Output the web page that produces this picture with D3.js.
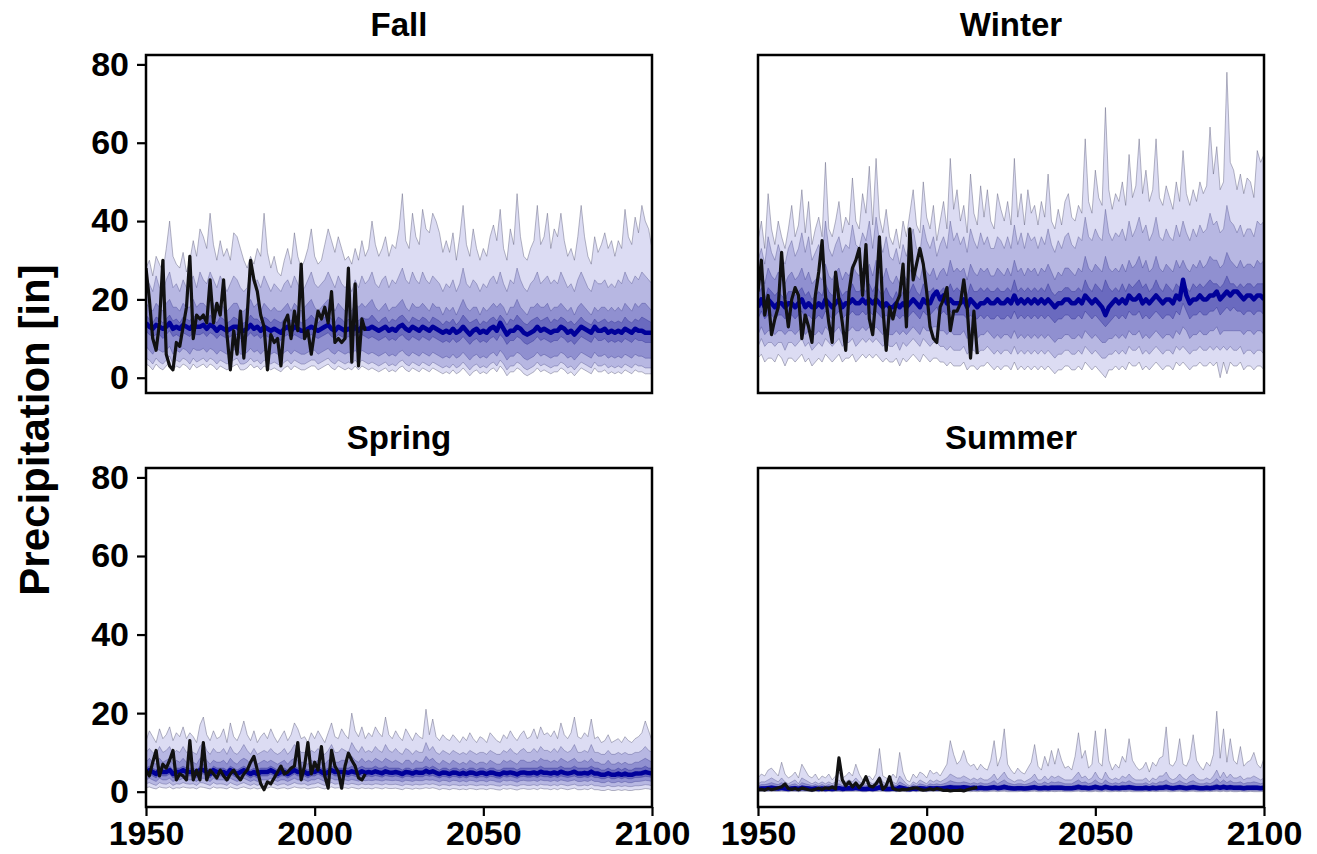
<!DOCTYPE html>
<html>
<head>
<meta charset="utf-8">
<script src="https://cdn.jsdelivr.net/npm/d3@7"></script>
<style>
  body { margin: 0; background: #fff; }
  svg { display: block; }
  text { font-family: "Liberation Sans", Arial, Helvetica, sans-serif; font-weight: bold; fill: #000; }
</style>
</head>
<body>
<svg id="chart" width="1317" height="854"></svg>
<script>
// ---------------------------------------------------------------
// Seasonal precipitation: model ensemble percentiles 1950-2100
// and observed record 1950-2015 (inches)
// ---------------------------------------------------------------
const firstYear = 1950;
const lastYear = 2100;
const seasons = ["Fall", "Winter", "Spring", "Summer"];
const xTicks = [1950, 2000, 2050, 2100];
const yTicks = [0, 20, 40, 60, 80];
const yLabel = "Precipitation [in]";

// ---- Fall ----
const fallP95 = [
  28,30,26,31,29,27,33,40,31,29, 28,32,27,30,35,31,38,36,33,42,
  34,30,35,31,33,30,37,36,33,30, 28,31,29,33,31,42,32,28,31,27,
  26,30,33,29,37,31,28,30,33,38, 31,29,30,34,38,35,32,36,33,30,
  31,29,33,30,35,31,33,40,34,31, 33,36,31,34,33,38,47,35,33,42,
  36,34,43,38,37,42,40,37,32,35, 32,37,30,36,44,34,31,38,33,30,
  33,31,36,39,35,43,33,30,38,34, 47,36,31,30,33,35,44,34,36,42,
  33,38,36,42,35,31,33,30,36,44, 36,31,29,36,32,34,37,33,35,31,
  35,33,43,36,34,41,37,44,40,38,33];
const fallP90 = [
  25,24,22,26,23,22,25,27,23,24, 22,25,23,24,26,23,27,25,24,27,
  25,23,26,24,22,24,26,25,23,22, 23,27,24,25,23,26,24,22,24,23,
  22,24,25,23,26,24,22,23,25,27, 24,23,24,25,27,25,23,26,24,23,
  24,22,25,23,26,24,25,27,24,23, 25,26,23,25,24,26,28,25,24,27,
  25,24,27,25,24,26,25,24,22,24, 23,25,22,24,28,24,23,25,24,22,
  24,23,25,26,24,27,24,22,25,24, 28,25,23,22,24,25,27,24,25,26,
  24,25,24,27,25,23,24,22,25,27, 25,23,22,25,24,24,25,23,24,23,
  25,24,27,25,24,26,25,27,26,25,24];
const fallP75 = [
  19,18,17,19,18,17,19,20,18,18, 17,19,18,18,20,18,19,19,18,20,
  19,17,19,18,17,18,19,19,17,17, 18,20,18,19,17,19,18,17,18,17,
  17,18,19,17,19,18,17,18,19,20, 18,17,18,19,20,19,17,19,18,17,
  18,17,19,18,19,18,19,20,18,17, 18,19,17,18,18,19,20,18,17,19,
  18,18,19,18,17,19,18,18,16,18, 17,18,16,18,20,18,17,18,18,16,
  18,17,18,19,18,19,18,16,18,18, 20,18,17,16,18,18,19,18,18,19,
  17,18,18,19,18,17,18,16,18,19, 18,17,16,18,17,18,18,17,18,17,
  18,17,19,18,17,19,18,19,19,18,17];
const fallP60 = [
  16,15,14,15.5,15,14,15,16,14.5,15, 14,15.5,15,14.5,16,15,15.5,15,14.5,16,
  15,14,15.5,15,14,14.5,15.5,15,14,14, 14.5,16,15,15,14,15.5,15,14,15,14.5,
  14,15,15.5,14.5,15.5,15,14,14.5,15,16, 15,14,15,15.5,16,15,14,15.5,15,14,
  15,14,15.5,14.5,15.5,15,15,16,15,14, 15,15.5,14,15,14.5,15.5,16,15,14,15.5,
  15,14.5,15.5,15,14,15.5,15,14.5,13.5,14.5, 14,15,13.5,14.5,16,15,14,14.5,15,13.5,
  14.5,14,15,15.5,14.5,16,15,13.5,15,14.5, 16,15,14,13.5,14.5,15,15.5,14.5,15,15.5,
  14,15,14.5,15.5,15,14,14.5,13.5,14.5,15.5, 14.5,14,13.5,15,14,14.5,15,14,14.5,14,
  14.5,14,15.5,14.5,14,15,14.5,15.5,15,14.5,14];
const fallP50 = [
  14,13,12.5,13.5,13,12.5,13,14,12.5,13, 12.5,13.5,13,12.5,13.5,13,13,13.5,12.5,13.5,
  13,12,13,12.5,12,12.5,13,13,12,12, 12.5,13.5,12.5,13,12,13,12.5,12,12.5,12,
  11.5,12.5,13,12,13,12.5,12,12,12.5,13, 12.5,12,12.5,13,13.5,12.5,12,13,12.5,12,
  12.5,12,13,12,13,12.5,12.5,13,12.5,12, 12.5,13,12,12.5,12,13,13.5,12.5,12,13,
  12.5,12,13,12.5,12,13,12.5,12,11.5,12, 11.5,12.5,11.5,12,13,12,11,12,12.5,11.5,
  12,11.5,12.5,13,12,14,12.5,11,12,12, 13,12.5,11.5,11,11.5,12,13,12,12.5,12,
  11.5,12,12,13,12.5,11.5,12,11,12,13, 12.5,12,11.5,13,12,12,12.5,11.5,12,11.5,
  12,11.5,12.5,12,11.5,12.5,12,12,11.5,11.5,11.5];
const fallP40 = [
  12,11,10.5,11,11,10,11,12,10.5,11, 10.5,11.5,11,10.5,11.5,11,11,11.5,10.5,11.5,
  11,10,11,10.5,10,10.5,11,11,10,10, 10.5,11.5,10.5,11,10,11,10.5,10,10.5,10,
  9.5,10.5,11,10,11,10.5,10,10,10.5,11, 10.5,10,10.5,11,11.5,10.5,10,11,10.5,10,
  10.5,10,11,10,11,10.5,10,10.5,10,9.5, 10,10.5,9.5,10,9.5,10.5,11,10,9.5,10.5,
  10,9.5,10.5,10,9.5,10.5,10,9.5,9,9.5, 9,10,9,9.5,10.5,9.5,8.5,9.5,10,9,
  9.5,9,10,10.5,9.5,11,10,8.5,9.5,9.5, 10.5,10,9,8.5,9,9.5,10.5,9.5,10,9.5,
  9,9.5,9.5,10.5,10,9,9.5,8.5,9.5,10.5, 10,9.5,9,10.5,9.5,9.5,10,9,9.5,9,
  9.5,9,10,9.5,9,10,9.5,9.5,9,9,9];
const fallP25 = [
  8,7,6,7.5,7,6.5,7,8,6,7, 6.5,7.5,7,6,7.5,7,7,7.5,6.5,7.5,
  7,6,7,6.5,6,6.5,7,7.5,6,6, 6.5,7.5,6.5,7,6,7,6.5,6,6.5,6,
  5.5,6.5,7,6,7,6.5,6,6,6.5,7, 7,6,6.5,7,7.5,6.5,6,7,6.5,6,
  6.5,6,7,6,7,6.5,6,6.5,6,5.5, 6,6.5,5.5,6,5.5,6.5,7,6,5.5,6.5,
  6,5.5,6.5,6,5.5,6.5,6,5.5,5,5.5, 5,6,5,5.5,6.5,5.5,4.5,5.5,6,5,
  5.5,5,6,6.5,5.5,7,6,4.5,5.5,5.5, 6.5,6,5,4.5,5,5.5,6.5,5.5,6,5.5,
  5,5.5,5.5,6.5,6,5,5.5,4.5,5.5,6.5, 6,5.5,5,6.5,5.5,5.5,6,5,5.5,5,
  5.5,5,6,5.5,5,6,5.5,5.5,5,5,5];
const fallP10 = [
  5,4.5,3.5,5,4,3.5,4.5,5.5,3.5,4.5, 4,5,4.5,3.5,5,4,4.5,5,4,5,
  4.5,3.5,4.5,4,3.5,4,4.5,5,3.5,3.5, 4,5,4,4.5,3.5,4.5,4,3.5,4,3.5,
  3,4,4.5,3.5,4.5,4,3.5,3.5,4,4.5, 4.5,3.5,4,4.5,5,4,3.5,4.5,4,3.5,
  4,3.5,4.5,3.5,4.5,4,3.5,4,3.5,3, 3.5,4,3,3.5,3,4,4.5,3.5,3,4,
  3.5,3,4,3.5,3,4,3.5,3,2.5,3, 2.5,3.5,2.5,3,4,3,2,3,3.5,2.5,
  3,2.5,3.5,4,3,4.5,3.5,2,3,3, 4,3.5,2.5,2,2.5,3,4,3,3.5,3,
  2.5,3,3,4,3.5,2.5,3,2,3,4, 3.5,3,2.5,4,3,3,3.5,2.5,3,2.5,
  3,2.5,3.5,3,2.5,3.5,3,3,2.5,2.5,2.5];
const fallP05 = [
  3.5,3,2,3.5,2.5,2,3,4,2,3, 2.5,3.5,3,2,3.5,2.5,3,3.5,2.5,3.5,
  3,2,3,2.5,2,2.5,3,3.5,2,2, 2.5,3.5,2.5,3,2,3,2.5,2,2.5,2,
  1.5,2.5,3,2,3,2.5,2,2,2.5,3, 3,2,2.5,3,3.5,2.5,2,3,2.5,2,
  2.5,2,3,2,3,2.5,2,2.5,2,1.5, 2,2.5,1.5,2,1.5,2.5,3,2,1.5,2.5,
  2,1.5,2.5,2,1.5,2.5,2,1.5,1,1.5, 1,2,1,1.5,2.5,1.5,0.5,1.5,2,1,
  1.5,1,2,2.5,1.5,3,2,0.5,1.5,1.5, 2.5,2,1,0.5,1,1.5,2.5,1.5,2,1.5,
  1,1.5,1.5,2.5,2,1,1.5,0.5,1.5,2.5, 2,1.5,1,2.5,1.5,1.5,2,1,1.5,1,
  1.5,1,2,1.5,1,2,1.5,1.5,1,1,1];
const fallObs = [
  28,20,10,7,14,30,6,3,2,9, 8,13,18,31,10,16,15,16,14,25,
  14,19,16,25,11,2,12,6,17,5, 16,30,25,22,16,13,2,11,9,10,
  3,14,16,10,17,12,29,10,12,6, 12,17,15,18,14,22,9,10,9,10,
  28,4,24,3,15,12];

// ---- Winter ----
const winterP95 = [
  35,40,33,47,38,34,40,36,33,38, 44,36,39,48,37,45,34,38,41,36,
  55,38,36,40,45,37,41,39,51,40, 38,47,42,54,39,56,41,37,43,36,
  34,38,33,40,36,42,48,39,37,50, 41,38,44,35,40,45,38,56,43,48,
  40,44,37,52,42,39,49,41,48,40, 38,47,43,40,45,39,56,41,47,39,
  48,42,44,39,45,41,52,40,38,43, 39,45,47,41,40,44,42,61,45,42,
  53,46,44,69,48,43,47,45,50,44, 57,46,49,61,47,53,45,48,61,46,
  44,49,46,43,50,45,58,47,44,48, 45,50,47,49,64,52,59,48,50,78,
  55,53,48,52,47,51,50,46,58,55,57];
const winterP90 = [
  30,33,29,36,32,30,34,31,29,33, 35,31,33,37,32,36,30,32,34,31,
  40,33,31,34,36,32,34,33,39,34, 33,37,35,40,33,41,35,32,36,31,
  30,33,29,34,31,35,38,33,32,39, 35,33,36,31,34,36,33,40,35,37,
  34,36,32,38,35,33,37,34,36,33, 33,36,35,33,36,33,39,34,37,33,
  37,35,36,33,36,34,38,34,32,35, 33,36,37,34,33,36,35,41,36,35,
  38,36,35,43,37,35,37,36,38,35, 40,36,38,41,37,39,35,37,41,36,
  35,38,36,35,39,36,40,37,35,38, 36,39,37,38,42,39,40,37,38,44,
  40,39,37,39,36,38,38,36,40,39,40];
const winterP75 = [
  25,27,24,28,26,25,27,25,24,26, 27,25,26,28,25,27,24,25,26,25,
  29,26,25,27,28,25,27,26,29,27, 26,28,27,29,26,30,27,25,28,25,
  24,26,24,27,25,27,29,26,25,29, 27,26,28,25,27,28,26,30,27,28,
  27,28,25,29,27,26,28,27,28,26, 26,28,27,26,28,26,30,27,28,26,
  28,27,28,26,28,27,29,27,25,27, 26,28,28,27,26,28,27,31,28,27,
  29,28,27,31,28,27,28,27,29,27, 30,28,29,31,28,30,27,28,31,28,
  27,29,28,27,30,28,30,28,27,29, 28,30,28,29,31,30,30,28,29,32,
  30,29,28,30,28,29,29,28,30,29,30];
const winterP60 = [
  21,23,20,23,22,21,22,21,20,22, 22,21,22,23,21,22,20,21,22,21,
  24,22,21,22,23,21,22,22,24,22, 22,23,22,24,22,24,22,21,23,21,
  20,22,20,22,21,22,24,22,21,24, 22,22,23,21,22,23,22,24,22,23,
  22,23,21,24,22,22,23,22,23,22, 22,23,22,22,23,22,25,22,23,22,
  23,22,23,22,23,22,24,22,21,22, 22,23,23,22,22,23,22,25,23,22,
  24,23,22,25,23,22,23,22,24,22, 24,23,24,25,23,24,22,23,25,23,
  22,24,23,22,24,23,25,23,22,24, 23,24,23,24,25,24,24,23,24,26,
  24,24,23,24,23,24,24,23,24,24,24];
const winterP50 = [
  18,20,18,20,19,18,19,19,18,19, 19,18,19,20,18,19,18,18,19,18,
  20,19,18,19,20,18,19,19,20,19, 19,20,19,20,19,20,19,18,19,18,
  18,19,18,19,18,19,20,19,18,20, 19,19,21,22,20,21,19,20,19,19,
  19,20,18,20,19,18,19,19,20,19, 19,20,19,19,20,19,21,19,20,19,
  20,19,20,19,20,19,20,19,18,19, 19,20,20,19,19,20,19,21,20,19,
  20,19,18,16,18,19,20,19,20,19, 21,20,20,21,19,20,19,20,21,20,
  19,20,20,19,21,20,25,21,19,20, 20,21,20,20,21,21,22,20,21,22,
  21,22,22,21,20,21,21,20,21,21,20];
const winterP40 = [
  15,17,15,16,16,15,16,16,15,16, 16,15,16,17,15,16,15,15,16,15,
  17,16,15,16,17,15,16,16,17,16, 16,17,16,17,16,17,16,15,16,15,
  15,16,15,16,15,16,17,16,15,17, 16,16,17,18,16,17,16,17,16,16,
  16,16,15,16,15,15,16,15,16,15, 15,16,15,15,16,15,17,15,16,15,
  16,15,16,15,16,15,16,15,14,15, 15,16,16,15,15,16,15,17,16,15,
  16,15,14,13,14,15,16,15,16,15, 17,16,16,17,15,16,15,16,17,16,
  15,16,16,15,17,16,19,17,15,16, 16,17,16,16,17,17,18,16,17,18,
  17,18,17,17,16,17,17,16,17,17,16];
const winterP25 = [
  11,13,11,12,12,11,12,12,11,12, 12,11,12,13,11,12,11,11,12,11,
  13,12,11,12,13,11,12,12,13,12, 12,13,12,13,12,13,12,11,12,11,
  11,12,11,12,11,12,13,12,11,13, 12,12,13,13,12,12,11,12,11,11,
  11,12,10,11,11,10,11,11,12,11, 10,11,10,11,11,10,12,10,11,10,
  11,10,11,10,11,10,11,10,9,10, 10,11,11,10,10,11,10,12,11,10,
  11,10,9,9,10,10,11,10,11,10, 12,11,11,12,10,11,10,11,12,11,
  10,11,11,10,12,11,13,12,10,11, 11,12,11,11,12,12,13,11,12,12,
  12,12,12,12,11,12,12,11,12,12,11];
const winterP10 = [
  8,10,8,9,9,8,9,9,7,9, 9,8,9,10,8,9,7,8,9,8,
  10,9,8,9,10,8,9,9,10,8, 9,10,9,10,9,10,9,8,9,8,
  8,9,7,9,8,9,10,9,8,10, 9,8,9,9,8,8,7,8,7,7,
  7,8,6,7,7,6,7,7,8,7, 6,7,6,7,7,6,8,6,7,6,
  7,6,7,6,7,6,7,6,5,6, 6,7,7,6,6,7,6,8,7,6,
  7,6,5,5,6,6,7,6,7,6, 8,7,7,8,6,7,6,7,8,7,
  6,7,7,6,8,7,8,7,6,7, 7,8,7,7,8,7,8,7,8,7,
  8,7,7,8,6,7,7,6,7,7,6];
const winterP05 = [
  5,6,4,5,5,4,6,5,3,5, 5,4,5,6,4,5,3,4,5,4,
  6,5,4,5,6,4,5,5,6,4, 5,6,5,6,5,6,5,4,5,4,
  4,5,3,5,4,5,6,5,4,6, 5,4,5,5,4,4,3,4,3,3,
  3,4,2,3,3,2,3,3,4,3, 2,3,2,3,3,2,4,2,3,2,
  3,2,3,2,3,2,3,2,1,2, 2,3,3,2,2,3,2,4,3,2,
  3,2,1,0,2,2,3,2,3,2, 4,3,3,4,2,3,2,3,4,3,
  2,3,3,2,4,3,4,3,2,3, 3,4,3,3,4,3,4,0,4,1,
  4,3,3,4,2,3,3,2,3,3,2];
const winterObs = [
  22,30,16,21,11,15,18,32,20,13, 20,23,21,10,16,13,9,21,27,35,
  21,14,9,27,20,14,7,22,28,30, 33,21,34,15,11,21,36,18,7,18,
  15,19,21,29,13,38,25,29,33,29, 22,13,10,9,18,20,23,12,17,17,
  19,25,18,5,17,6];

// ---- Spring ----
const springP95 = [
  13,15.5,14,12.5,16,13.5,14.5,16.5,13,15, 14,16.5,13.5,15,14,12.5,17,19,14.5,13,
  15.5,13.5,14,16,12.5,17.5,14,13,15,18, 14.5,13,15.5,12.5,14,15,13.5,16,14,12.5,
  14,15.5,13,14.5,17.5,16,13.5,14,12.5,15, 13.5,15.5,14,12.5,15,17.5,14,13.5,16,14.5,
  13.5,20,15.5,14,16.5,13.5,15,14,16.5,15, 14,19,14.5,13.5,15.5,14,13,16,14.5,13,
  15,14,13.5,21,14.5,18.5,14,13,14.5,13.5, 13,14.5,13.5,12.5,14,13,15,13.5,12.5,14,
  13.5,12.5,15,14,13,12.5,14.5,13.5,15.5,14, 13,14.5,15.5,13.5,14,16,13.5,16.5,14.5,15,
  14,15.5,13.5,17.5,14.5,13.5,15,19,14,13.5, 15,14,18.5,13.5,14,12.5,13,14.5,12.5,13,
  13.5,12.5,14,13,12.5,13.5,14,15,18,15.5,13];
const springP90 = [
  10,11,10,9.5,11.5,10,10.5,11.5,9.5,10.5, 10,11.5,10,10.5,10,9.5,11.5,12.5,10.5,9.5,
  11,10,10,11,9.5,11.5,10,9.5,10.5,12, 10.5,9.5,11,9.5,10,10.5,10,11,10,9.5,
  10,11,9.5,10.5,12,11,10,10,9.5,10.5, 10,11,10,9.5,10.5,12,10,10,11,10.5,
  10,12.5,11,10,11.5,10,10.5,10,11.5,10.5, 10,12,10.5,10,11,10,9.5,11,10.5,9.5,
  10.5,10,10,12.5,10.5,11.5,10,9.5,10.5,10, 9.5,10.5,10,9.5,10,9.5,10.5,10,9.5,10,
  10,9.5,10.5,10,9.5,9.5,10.5,10,11,10, 9.5,10.5,11,10,10,11,10,11.5,10.5,10.5,
  10,11,10,11.5,10.5,10,10.5,12,10,10, 10.5,10,12,10,10,9.5,9.5,10.5,9.5,9.5,
  10,9.5,10,9.5,9.5,10,10,10.5,11.5,10.5,10];
const springP75 = [
  7.5,8.5,7.5,7,8.5,7.5,8,8.5,7,8, 7.5,8.5,7.5,8,7.5,7,8.5,9,8,7,
  8,7.5,7.5,8,7,8.5,7.5,7,8,8.5, 8,7,8,7,7.5,8,7.5,8,7.5,7,
  7.5,8,7,8,8.5,8,7.5,7.5,7,8, 7.5,8,7.5,7,8,8.5,7.5,7.5,8,8,
  7.5,9,8,7.5,8.5,7.5,8,7.5,8.5,8, 7.5,8.5,8,7.5,8,7.5,7,8,8,7,
  8,7.5,7.5,9,8,8.5,7.5,7,8,7.5, 7,8,7.5,7,7.5,7,8,7.5,7,7.5,
  7.5,7,8,7.5,7,7,8,7.5,8,7.5, 7,8,8,7.5,7.5,8,7.5,8.5,8,8,
  7.5,8,7.5,8.5,8,7.5,8,8.5,7.5,7.5, 8,7.5,8.5,7.5,7.5,7,7,8,7,7,
  7.5,7,7.5,7,7,7.5,7.5,8,8.5,8,7.5];
const springP60 = [
  6,6.5,6,5.5,6.5,6,6,6.5,5.5,6, 6,6.5,6,6,6,5.5,6.5,7,6,5.5,
  6.5,6,6,6,5.5,6.5,6,5.5,6,6.5, 6,5.5,6,5.5,6,6,6,6.5,6,5.5,
  6,6,5.5,6,6.5,6,6,6,5.5,6, 6,6.5,6,5.5,6,6.5,6,6,6,6,
  6,6.5,6,6,6.5,6,6,6,6.5,6, 6,6.5,6,6,6,6,5.5,6,6,5.5,
  6,6,6,6.5,6,6.5,6,5.5,6,6, 5.5,6,6,5.5,6,5.5,6,6,5.5,6,
  6,5.5,6,6,5.5,5.5,6,6,6,6, 5.5,6,6,6,6,6,6,6.5,6,6,
  6,6,6,6.5,6,6,6,6.5,6,6, 6,6,6.5,6,6,5.5,5.5,6,5.5,5.5,
  6,5.5,6,5.5,5.5,6,6,6,6.5,6,6];
const springP50 = [
  5,5.5,5,4.5,5.5,5,5,5.5,4.5,5, 5,5.5,5,5,5,4.5,5.5,5.5,5,4.5,
  5.5,5,5,5,4.5,5.5,5,4.5,5,5.5, 5,4.5,5,4.5,5,5,5,5.5,5,4.5,
  5,5,4.5,5,5.5,5,5,5,4.5,5, 5,5.5,5,4.5,5,5.5,5,5,5,5,
  4.8,5.2,4.9,4.7,5.2,4.8,5,4.8,5.2,4.9, 4.7,5.2,4.9,4.8,5,4.8,4.5,5,4.9,4.6,
  5,4.8,4.8,5.3,4.9,5.2,4.8,4.5,4.9,4.8, 4.5,4.9,4.8,4.5,4.8,4.5,4.9,4.8,4.5,4.8,
  4.8,4.5,4.9,4.8,4.5,4.4,4.9,4.7,4.9,4.7, 4.4,4.8,4.9,4.7,4.7,4.9,4.6,5.1,4.8,4.8,
  4.6,4.9,4.6,5.1,4.8,4.6,4.8,5.1,4.6,4.6, 4.8,4.6,5.1,4.6,4.6,4.3,4.3,4.7,4.3,4.3,
  4.6,4.3,4.6,4.3,4.3,4.6,4.6,4.7,5,4.8,4.6];
const springP40 = [
  4,4.5,4,3.5,4.5,4,4,4.5,3.5,4, 4,4.5,4,4,4,3.5,4.5,4.5,4,3.5,
  4.5,4,4,4,3.5,4.5,4,3.5,4,4.5, 4,3.5,4,3.5,4,4,4,4.5,4,3.5,
  4,4,3.5,4,4.5,4,4,4,3.5,4, 4,4.5,4,3.5,4,4.5,4,4,4,4,
  3.8,4.2,3.9,3.7,4.1,3.8,4,3.8,4.1,3.9, 3.7,4.1,3.9,3.8,4,3.8,3.5,3.9,3.9,3.6,
  3.9,3.8,3.8,4.2,3.9,4.1,3.8,3.5,3.9,3.8, 3.5,3.9,3.8,3.5,3.8,3.5,3.9,3.8,3.5,3.8,
  3.8,3.5,3.9,3.8,3.5,3.4,3.9,3.7,3.9,3.7, 3.4,3.8,3.9,3.7,3.7,3.9,3.6,4,3.8,3.8,
  3.6,3.9,3.6,4,3.8,3.6,3.8,4,3.6,3.6, 3.8,3.6,4,3.6,3.6,3.3,3.3,3.7,3.3,3.3,
  3.6,3.3,3.6,3.3,3.3,3.6,3.6,3.7,3.9,3.8,3.6];
const springP25 = [
  3,3.4,3,2.6,3.4,3,3,3.4,2.6,3, 3,3.4,3,3,3,2.6,3.4,3.4,3,2.6,
  3.4,3,3,3,2.6,3.4,3,2.6,3,3.4, 3,2.6,3,2.6,3,3,3,3.4,3,2.6,
  3,3,2.6,3,3.4,3,3,3,2.6,3, 3,3.4,3,2.6,3,3.4,3,3,3,3,
  2.8,3.1,2.9,2.7,3,2.8,2.9,2.8,3,2.9, 2.7,3,2.9,2.8,2.9,2.8,2.5,2.9,2.8,2.6,
  2.9,2.8,2.8,3.1,2.9,3,2.8,2.5,2.9,2.8, 2.5,2.9,2.8,2.5,2.8,2.5,2.9,2.8,2.5,2.8,
  2.8,2.5,2.9,2.8,2.5,2.4,2.9,2.7,2.9,2.7, 2.4,2.8,2.9,2.7,2.7,2.9,2.6,3,2.8,2.8,
  2.6,2.9,2.6,3,2.8,2.6,2.8,3,2.6,2.6, 2.8,2.6,3,2.6,2.6,2.3,2.3,2.7,2.3,2.3,
  2.6,2.3,2.6,2.3,2.3,2.6,2.6,2.7,2.9,2.8,2.6];
const springP10 = [
  2,2.3,1.9,1.6,2.3,2,1.9,2.3,1.6,2, 1.9,2.3,2,1.9,2,1.6,2.3,2.2,1.9,1.6,
  2.3,1.9,2,1.9,1.6,2.3,1.9,1.6,2,2.3, 1.9,1.6,2,1.6,1.9,2,1.9,2.3,2,1.6,
  1.9,2,1.6,1.9,2.3,2,1.9,2,1.6,1.9, 2,2.3,1.9,1.6,2,2.3,1.9,2,1.9,2,
  1.8,2.1,1.9,1.7,2,1.8,1.9,1.7,2,1.9, 1.7,2,1.8,1.8,1.9,1.7,1.5,1.9,1.8,1.6,
  1.9,1.7,1.8,2,1.8,2,1.8,1.5,1.8,1.7, 1.5,1.8,1.7,1.5,1.7,1.5,1.8,1.7,1.5,1.7,
  1.7,1.5,1.8,1.7,1.5,1.4,1.8,1.6,1.8,1.6, 1.4,1.7,1.8,1.6,1.6,1.8,1.5,1.9,1.7,1.7,
  1.5,1.8,1.5,1.9,1.7,1.5,1.7,1.9,1.5,1.5, 1.7,1.5,1.9,1.5,1.5,1.3,1.3,1.6,1.3,1.3,
  1.5,1.3,1.5,1.3,1.3,1.5,1.5,1.6,1.8,1.7,1.5];
const springP05 = [
  1,1.2,0.9,0.7,1.2,1,0.9,1.2,0.7,1, 0.9,1.2,1,0.9,1,0.7,1.2,1.1,0.9,0.7,
  1.2,0.9,1,0.9,0.7,1.2,0.9,0.7,1,1.2, 0.9,0.7,1,0.7,0.9,1,0.9,1.2,1,0.7,
  0.9,1,0.7,0.9,1.2,1,0.9,1,0.7,0.9, 1,1.2,0.9,0.7,1,1.2,0.9,1,0.9,1,
  0.8,1.1,0.9,0.7,1,0.8,0.9,0.7,1,0.9, 0.7,1,0.8,0.8,0.9,0.7,0.5,0.9,0.8,0.6,
  0.9,0.7,0.8,1,0.8,1,0.8,0.5,0.8,0.7, 0.5,0.8,0.7,0.5,0.7,0.5,0.8,0.7,0.5,0.7,
  0.7,0.5,0.8,0.7,0.5,0.4,0.8,0.6,0.8,0.6, 0.4,0.7,0.8,0.6,0.6,0.8,0.5,0.9,0.7,0.7,
  0.5,0.8,0.5,0.9,0.7,0.5,0.7,0.9,0.5,0.5, 0.7,0.5,0.9,0.5,0.5,0.3,0.3,0.6,0.3,0.3,
  0.5,0.3,0.5,0.3,0.3,0.5,0.5,0.6,0.8,0.7,0.5];
const springObs = [
  5.5,4,7.5,10.5,4,7,6,8,10.5,3, 4.5,4,3,13,3,5.5,3,12.5,3,5.5,
  4.5,3.5,5.5,4,3,4.5,5.5,4,3,4.5, 5.5,7.5,9,5.5,2,0.5,2.5,2,3.5,5,
  6.5,4.5,5,6,6.5,12.5,3,6.5,12.5,4.5, 7.5,5.5,11.5,4,0.9,10.5,6.5,5,0.9,6.5,
  9.8,8,6.5,3.5,3,4.5];

// ---- Summer ----
const summerP95 = [
  3.5,4.5,4,5.5,6,5,4,7.5,4.5,3.5, 4,5,3.5,7,5.5,4,3.5,4.5,3,4,
  3.5,4.5,3,4,5,3.5,4,5,4,7, 4.5,3,3.5,4,3,4.5,11,4,3.5,3,
  4.5,3.5,10,5,3,2.5,4.5,3.5,5,4.5, 3.5,5.5,4.5,5,4,5.5,7,13,9.5,7,
  8,10.5,7.5,6.5,7,5.5,7,6,5.5,8, 13,6.5,9,16,7,5.5,4.5,6,5,4.5,
  6,7.5,12,6.5,5.5,9,6.5,10.5,7,11, 8,6,6.5,5.5,9,15,8.5,10.5,6,7,
  15.5,7.5,6.5,16,8,5.5,7,6,9,7.5, 13.5,8,6.5,5.5,6,7.5,5,7.5,6.5,8.5,
  9,16.5,7,6.5,8,13.5,7,6.5,8.5,14.5, 8,6.5,5.5,7.5,6.5,9.5,20.5,8.5,16,7.5,
  13.5,8,7,11.5,6.5,7.5,8,10,7,6,8.5];
const summerP90 = [
  2,2.5,2.5,3,3.5,3,2.5,3.5,2.5,2, 2.5,3,2,3.5,3,2.5,2,2.5,2,2.5,
  2,2.5,2,2.5,3,2,2.5,3,2.5,3.5, 2.5,2,2,2.5,2,2.5,4,2.5,2,2,
  2.5,2,4,3,2,1.5,2.5,2,3,2.5, 2,3,2.5,3,2.5,3,3.5,4.5,4,3.5,
  3.5,4,3.5,3,3.5,3,3.5,3,3,3.5, 4.5,3,4,5,3.5,3,2.5,3,3,2.5,
  3,3.5,4.5,3,3,4,3,4,3.5,4, 3.5,3,3,3,4,5,3.5,4,3,3.5,
  5,3.5,3,5,3.5,3,3.5,3,4,3.5, 4.5,3.5,3,3,3,3.5,2.5,3.5,3,4,
  4,5,3.5,3,3.5,4.5,3.5,3,4,4.5, 3.5,3,3,3.5,3,4,5.5,3.5,5,3.5,
  4.5,3.5,3.5,4,3,3.5,3.5,4,3.5,3,3.5];
const summerP75 = [
  1.5,1.8,1.8,2,2.3,2,1.8,2.3,1.8,1.5, 1.8,2,1.5,2.3,2,1.8,1.5,1.8,1.5,1.8,
  1.5,1.8,1.5,1.8,2,1.5,1.8,2,1.8,2.3, 1.8,1.5,1.5,1.8,1.5,1.8,2.5,1.8,1.5,1.5,
  1.8,1.5,2.5,2,1.5,1.2,1.8,1.5,2,1.8, 1.5,2,1.8,2,1.8,2,2.3,2.8,2.5,2.3,
  2.3,2.5,2.3,2,2.3,2,2.3,2,2,2.3, 2.8,2,2.5,3,2.3,2,1.8,2,2,1.8,
  2,2.3,2.8,2,2,2.5,2,2.5,2.3,2.5, 2.3,2,2,2,2.5,3,2.3,2.5,2,2.3,
  3,2.3,2,3,2.3,2,2.3,2,2.5,2.3, 2.8,2.3,2,2,2,2.3,1.8,2.3,2,2.5,
  2.5,3,2.3,2,2.3,2.8,2.3,2,2.5,2.8, 2.3,2,2,2.3,2,2.5,3.3,2.3,3,2.3,
  2.8,2.3,2.3,2.5,2,2.3,2.3,2.5,2.3,2,2.3];
const summerP60 = [
  1.1,1.3,1.3,1.4,1.5,1.4,1.3,1.5,1.3,1.1, 1.3,1.4,1.1,1.5,1.4,1.3,1.1,1.3,1.1,1.3,
  1.1,1.3,1.1,1.3,1.4,1.1,1.3,1.4,1.3,1.5, 1.3,1.1,1.1,1.3,1.1,1.3,1.6,1.3,1.1,1.1,
  1.3,1.1,1.6,1.4,1.1,0.9,1.3,1.1,1.4,1.3, 1.1,1.4,1.3,1.4,1.3,1.4,1.5,1.7,1.6,1.5,
  1.5,1.6,1.5,1.4,1.5,1.4,1.5,1.4,1.4,1.5, 1.7,1.4,1.6,1.8,1.5,1.4,1.3,1.4,1.4,1.3,
  1.4,1.5,1.7,1.4,1.4,1.6,1.4,1.6,1.5,1.6, 1.5,1.4,1.4,1.4,1.6,1.8,1.5,1.6,1.4,1.5,
  1.8,1.5,1.4,1.8,1.5,1.4,1.5,1.4,1.6,1.5, 1.7,1.5,1.4,1.4,1.4,1.5,1.3,1.5,1.4,1.6,
  1.6,1.8,1.5,1.4,1.5,1.7,1.5,1.4,1.6,1.7, 1.5,1.4,1.4,1.5,1.4,1.6,1.9,1.5,1.8,1.5,
  1.7,1.5,1.5,1.6,1.4,1.5,1.5,1.6,1.5,1.4,1.5];
const summerP50 = [
  0.7,0.8,0.8,0.9,1,0.9,0.8,1,0.8,0.7, 0.8,0.9,0.7,1,0.9,0.8,0.7,0.8,0.7,0.8,
  0.7,0.8,0.7,0.8,0.9,0.7,0.8,0.9,0.8,1, 0.8,0.7,0.7,0.8,0.7,0.8,1.1,0.8,0.7,0.7,
  0.8,0.7,1.1,0.9,0.7,0.6,0.8,0.7,0.9,0.8, 0.7,0.9,0.8,0.9,0.8,0.9,1,1.1,1,1,
  1,1.1,1,0.9,1,0.9,1,0.9,0.9,1, 1.1,0.9,1,1.2,1,0.9,0.8,0.9,0.9,0.8,
  0.9,1,1.1,0.9,0.9,1,0.9,1,1,1, 1,0.9,0.9,0.9,1,1.2,1,1,0.9,1,
  1.2,1,0.9,1.2,1,0.9,1,0.9,1,1, 1.1,1,0.9,0.9,0.9,1,0.8,1,0.9,1,
  1,1.2,1,0.9,1,1.1,1,0.9,1,1.1, 1,0.9,0.9,1,0.9,1,1.2,1,1.2,1,
  1.1,1,1,1,0.9,1,1,1,1,0.9,1];
const summerP40 = [
  0.5,0.6,0.6,0.7,0.7,0.7,0.6,0.7,0.6,0.5, 0.6,0.7,0.5,0.7,0.7,0.6,0.5,0.6,0.5,0.6,
  0.5,0.6,0.5,0.6,0.7,0.5,0.6,0.7,0.6,0.7, 0.6,0.5,0.5,0.6,0.5,0.6,0.8,0.6,0.5,0.5,
  0.6,0.5,0.8,0.7,0.5,0.4,0.6,0.5,0.7,0.6, 0.5,0.7,0.6,0.7,0.6,0.7,0.7,0.8,0.7,0.7,
  0.7,0.8,0.7,0.7,0.7,0.7,0.7,0.7,0.7,0.7, 0.8,0.7,0.7,0.9,0.7,0.7,0.6,0.7,0.7,0.6,
  0.7,0.7,0.8,0.7,0.7,0.7,0.7,0.7,0.7,0.7, 0.7,0.7,0.7,0.7,0.7,0.9,0.7,0.7,0.7,0.7,
  0.9,0.7,0.7,0.9,0.7,0.7,0.7,0.7,0.7,0.7, 0.8,0.7,0.7,0.7,0.7,0.7,0.6,0.7,0.7,0.7,
  0.7,0.9,0.7,0.7,0.7,0.8,0.7,0.7,0.7,0.8, 0.7,0.7,0.7,0.7,0.7,0.7,0.9,0.7,0.9,0.7,
  0.8,0.7,0.7,0.7,0.7,0.7,0.7,0.7,0.7,0.7,0.7];
const summerP25 = [
  0.3,0.3,0.3,0.4,0.4,0.4,0.3,0.4,0.3,0.3, 0.3,0.4,0.3,0.4,0.4,0.3,0.3,0.3,0.3,0.3,
  0.3,0.3,0.3,0.3,0.4,0.3,0.3,0.4,0.3,0.4, 0.3,0.3,0.3,0.3,0.3,0.3,0.5,0.3,0.3,0.3,
  0.3,0.3,0.5,0.4,0.3,0.2,0.3,0.3,0.4,0.3, 0.3,0.4,0.3,0.4,0.3,0.4,0.4,0.5,0.4,0.4,
  0.4,0.5,0.4,0.4,0.4,0.4,0.4,0.4,0.4,0.4, 0.5,0.4,0.4,0.5,0.4,0.4,0.3,0.4,0.4,0.3,
  0.4,0.4,0.5,0.4,0.4,0.4,0.4,0.4,0.4,0.4, 0.4,0.4,0.4,0.4,0.4,0.5,0.4,0.4,0.4,0.4,
  0.5,0.4,0.4,0.5,0.4,0.4,0.4,0.4,0.4,0.4, 0.5,0.4,0.4,0.4,0.4,0.4,0.3,0.4,0.4,0.4,
  0.4,0.5,0.4,0.4,0.4,0.5,0.4,0.4,0.4,0.5, 0.4,0.4,0.4,0.4,0.4,0.4,0.5,0.4,0.5,0.4,
  0.5,0.4,0.4,0.4,0.4,0.4,0.4,0.4,0.4,0.4,0.4];
const summerP10 = [
  0.2,0.2,0.2,0.2,0.3,0.2,0.2,0.3,0.2,0.2, 0.2,0.2,0.1,0.3,0.2,0.2,0.1,0.2,0.1,0.2,
  0.1,0.2,0.1,0.2,0.2,0.1,0.2,0.2,0.2,0.3, 0.2,0.1,0.1,0.2,0.1,0.2,0.3,0.2,0.1,0.1,
  0.2,0.1,0.3,0.2,0.1,0.1,0.2,0.1,0.2,0.2, 0.1,0.2,0.2,0.2,0.2,0.2,0.2,0.3,0.2,0.2,
  0.2,0.3,0.2,0.2,0.2,0.2,0.2,0.2,0.2,0.2, 0.3,0.2,0.2,0.3,0.2,0.2,0.2,0.2,0.2,0.2,
  0.2,0.2,0.3,0.2,0.2,0.2,0.2,0.2,0.2,0.2, 0.2,0.2,0.2,0.2,0.2,0.3,0.2,0.2,0.2,0.2,
  0.3,0.2,0.2,0.3,0.2,0.2,0.2,0.2,0.2,0.2, 0.3,0.2,0.2,0.2,0.2,0.2,0.2,0.2,0.2,0.2,
  0.2,0.3,0.2,0.2,0.2,0.3,0.2,0.2,0.2,0.3, 0.2,0.2,0.2,0.2,0.2,0.2,0.3,0.2,0.3,0.2,
  0.3,0.2,0.2,0.2,0.2,0.2,0.2,0.2,0.2,0.2,0.2];
const summerP05 = [
  0.1,0.1,0.1,0.1,0.1,0.1,0.1,0.1,0.1,0, 0.1,0.1,0,0.1,0.1,0.1,0,0.1,0,0.1,
  0,0.1,0,0.1,0.1,0,0.1,0.1,0.1,0.1, 0.1,0,0,0.1,0,0.1,0.1,0.1,0,0,
  0.1,0,0.1,0.1,0,0,0.1,0,0.1,0.1, 0,0.1,0.1,0.1,0.1,0.1,0.1,0.1,0.1,0.1,
  0.1,0.1,0.1,0,0.1,0,0.1,0,0,0.1, 0.1,0,0.1,0.1,0,0,0,0,0.1,0,
  0,0.1,0.1,0,0,0.1,0,0.1,0,0.1, 0.1,0,0,0,0.1,0.1,0,0.1,0,0,
  0.1,0,0,0.1,0,0,0.1,0,0.1,0, 0.1,0,0,0,0,0.1,0,0.1,0,0.1,
  0.1,0.1,0,0,0.1,0.1,0,0,0.1,0.1, 0,0,0,0.1,0,0.1,0.1,0,0.1,0,
  0.1,0,0,0.1,0,0,0.1,0,0,0,0.1];
const summerObs = [
  0.5,0.6,0.4,0.8,0.5,0.7,1,1.2,2,0.8, 0.6,0.8,0.5,0.9,0.7,0.5,0.4,0.6,0.9,0.5,
  1,0.8,1.2,0.7,8.6,3,1.5,2.5,1.2,2.2, 1,2,3.8,1.5,1.2,2,3.4,0.6,1.5,3.8,
  0.8,0.5,0.4,0.6,0.5,0.7,0.9,1,0.6,0.4, 0.5,0.7,0.5,0.8,0.6,0.3,0.4,0.2,0.3,0.3,
  0.4,0.2,0.5,0.7,0.9,1.1];

// ---------------------------------------------------------------
const panels = [
  { title: seasons[0], col: 0, row: 0, median: fallP50, obs: fallObs,
    bands: [[fallP05, fallP95], [fallP10, fallP90], [fallP25, fallP75], [fallP40, fallP60]] },
  { title: seasons[1], col: 1, row: 0, median: winterP50, obs: winterObs,
    bands: [[winterP05, winterP95], [winterP10, winterP90], [winterP25, winterP75], [winterP40, winterP60]] },
  { title: seasons[2], col: 0, row: 1, median: springP50, obs: springObs,
    bands: [[springP05, springP95], [springP10, springP90], [springP25, springP75], [springP40, springP60]] },
  { title: seasons[3], col: 1, row: 1, median: summerP50, obs: summerObs,
    bands: [[summerP05, summerP95], [summerP10, summerP90], [summerP25, summerP75], [summerP40, summerP60]] }
];

// layout
const colRange = [[146, 652], [758, 1264]];
const rowRange = [[55, 393], [468, 807]];
const yDomain = [-3.9, 82.4];

const bandFill = ["#dcdcf3", "#b7b7e2", "#9090d0", "#6a6abf"];
const bandEdge = ["rgba(90,90,120,0.55)", "rgba(70,70,130,0.45)", "rgba(60,60,140,0.45)", "rgba(40,40,140,0.45)"];
const medianColor = "#00009a";
const obsColor = "#111111";
const fontFamily = "'Liberation Sans', Arial, sans-serif";

const svg = d3.select("#chart");
svg.append("rect").attr("width", 1317).attr("height", 854).attr("fill", "#ffffff");

panels.forEach(p => {
  const [x0, x1] = colRange[p.col];
  const [y0, y1] = rowRange[p.row];
  const x = d3.scaleLinear().domain([firstYear, lastYear]).range([x0, x1]);
  const y = d3.scaleLinear().domain(yDomain).range([y1, y0]);
  const g = svg.append("g");

  const clipId = "clip-" + p.title;
  g.append("clipPath").attr("id", clipId)
    .append("rect").attr("x", x0).attr("y", y0).attr("width", x1 - x0).attr("height", y1 - y0);
  const plot = g.append("g").attr("clip-path", `url(#${clipId})`);

  // percentile bands, widest first
  p.bands.forEach(([lo, hi], k) => {
    const area = d3.area()
      .x((d, i) => x(firstYear + i))
      .y0((d, i) => y(lo[i]))
      .y1((d, i) => y(hi[i]));
    plot.append("path")
      .datum(hi)
      .attr("d", area)
      .attr("fill", bandFill[k])
      .attr("stroke", bandEdge[k])
      .attr("stroke-width", 0.8)
      .attr("stroke-linejoin", "round");
  });

  // ensemble median
  const line = d3.line().x((d, i) => x(firstYear + i)).y(d => y(d));
  plot.append("path")
    .datum(p.median)
    .attr("d", line)
    .attr("fill", "none")
    .attr("stroke", medianColor)
    .attr("stroke-width", 4.5)
    .attr("stroke-linejoin", "round");

  // observed record
  plot.append("path")
    .datum(p.obs)
    .attr("d", line)
    .attr("fill", "none")
    .attr("stroke", obsColor)
    .attr("stroke-width", 3.2)
    .attr("stroke-linejoin", "round");

  // frame
  g.append("rect")
    .attr("x", x0).attr("y", y0)
    .attr("width", x1 - x0).attr("height", y1 - y0)
    .attr("fill", "none").attr("stroke", "#000").attr("stroke-width", 2.5);

  // title
  g.append("text")
    .attr("x", (x0 + x1) / 2).attr("y", y0 - 19)
    .attr("text-anchor", "middle")
    .style("font-size", "33px")
    .text(p.title);

  const styleTicks = ax => {
    ax.select(".domain").remove();
    ax.selectAll(".tick line").attr("stroke", "#000").attr("stroke-width", 2.2);
    ax.selectAll(".tick text")
      .style("font-size", "34px").style("font-family", fontFamily)
      .style("font-weight", "bold").attr("fill", "#000");
  };
  // y axis on the left column
  if (p.col === 0) {
    g.append("g").attr("transform", `translate(${x0},0)`)
      .call(d3.axisLeft(y).tickValues(yTicks).tickSize(9).tickPadding(8).tickFormat(d3.format("d")))
      .call(styleTicks);
  }
  // x axis on the bottom row
  if (p.row === 1) {
    g.append("g").attr("transform", `translate(0,${y1})`)
      .call(d3.axisBottom(x).tickValues(xTicks).tickSize(9).tickPadding(5).tickFormat(d3.format("d")))
      .call(styleTicks);
  }
});

// shared y label
svg.append("text")
  .attr("transform", "translate(49,430) rotate(-90)")
  .attr("text-anchor", "middle")
  .style("font-size", "42px")
  .text(yLabel);
</script>
</body>
</html>
